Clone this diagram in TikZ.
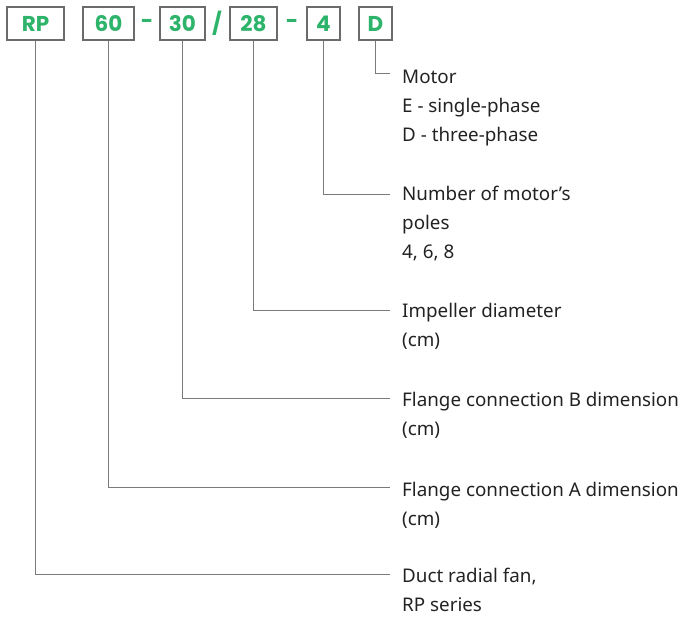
\documentclass[tikz,border=0pt]{standalone}
\usepackage{fontspec}
\setmainfont{Noto Sans}
\newfontfamily\codefont{Poppins}
\usepackage{xcolor}
\usetikzlibrary{positioning}
\definecolor{codegreen}{HTML}{2DB36A}
\definecolor{framegrey}{HTML}{6B6B6B}
\definecolor{leadgrey}{HTML}{7A7A7A}
\definecolor{textdark}{HTML}{222222}

\begin{document}
\begin{tikzpicture}[x=1pt, y=-1pt,
  codebox/.style = {draw=framegrey, line width=1.2pt, minimum height=33pt, inner sep=0pt,
                    text=codegreen, font=\fontsize{21.5}{21.5}\codefont\bfseries},
  sep/.style = {text=codegreen, font=\fontsize{21.5}{21.5}\codefont\bfseries},
  lead/.style = {draw=leadgrey, line width=0.9pt},
  descr/.style = {anchor=base west, align=left, inner sep=0pt, text=textdark,
                  font=\fontsize{18.8}{29}\selectfont}]

\useasboundingbox (0,0) rectangle (683,619);

% code boxes
\node (rp) at (35.5,23.5) [codebox, minimum width=57pt]{RP};
\node (c60) at (108.5,23.5) [codebox, minimum width=51pt]{60};
\node (s1) at (147,23.5) [sep]{-};
\node (c30) at (182.5,23.5) [codebox, minimum width=45pt]{30};
\node (s2) at (217,23.5) [sep]{/};
\node (c28) at (253.5,23.5) [codebox, minimum width=47pt]{28};
\node (s3) at (292,23.5) [sep]{-};
\node (c4) at (323.5,23.5) [codebox, minimum width=33pt]{4};
\node (cD) at (375.5,23.5) [codebox, minimum width=33pt]{D};

% ends of leader lines
\coordinate (eD) at (390,73);
\coordinate (e4) at (390,194);
\coordinate (e28) at (390,310);
\coordinate (e30) at (390,398);
\coordinate (e60) at (390,487);
\coordinate (erp) at (390,574);

% descriptions (anchored on the last line)
\node (tD) at (402,141) [descr]{Motor\\E - single-phase\\D - three-phase};
\node (t4) at (402,258) [descr]{Number of motor's\\poles\\4, 6, 8};
\node (t28) at (402,346) [descr]{Impeller diameter\\(cm)};
\node (t30) at (402,435) [descr]{Flange connection B dimension\\(cm)};
\node (t60) at (402,525) [descr]{Flange connection A dimension\\(cm)};
\node (trp) at (402,611) [descr]{Duct radial fan,\\RP series};

% leader lines
\draw [lead] (cD.south) |- (eD);
\draw [lead] (c4.south) |- (e4);
\draw [lead] (c28.south) |- (e28);
\draw [lead] (c30.south) |- (e30);
\draw [lead] (c60.south) |- (e60);
\draw [lead] (rp.south) |- (erp);

\end{tikzpicture}
\end{document}
